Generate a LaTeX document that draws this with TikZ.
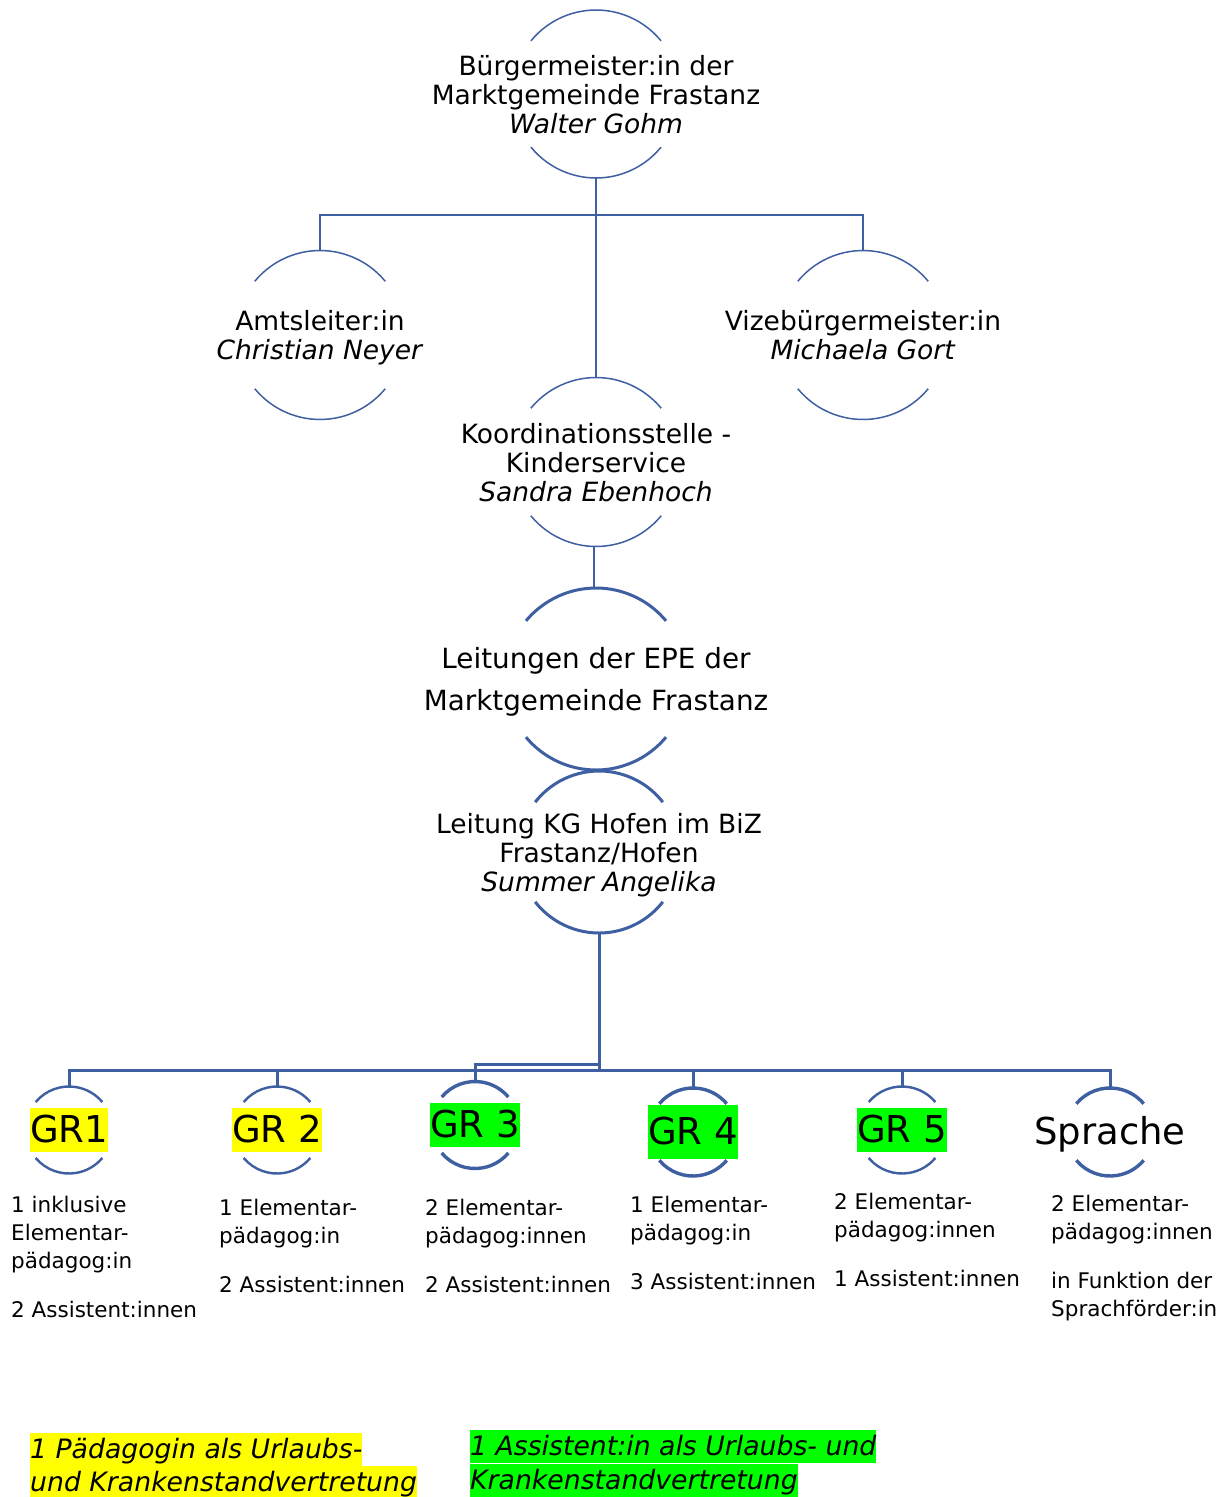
\documentclass[tikz,border=0pt]{standalone}
\usepackage{fontspec}
\setmainfont{DejaVu Sans}
\definecolor{lineblue}{RGB}{62,96,162}
\definecolor{hlyellow}{RGB}{255,255,0}
\definecolor{hlgreen}{RGB}{0,255,0}
\newcommand\ringarcs[4][]{%
  \draw[#1] ([shift={(90+#4:#3)}]#2.center) arc[start angle=90+#4, end angle=90-#4, radius=#3];
  \draw[#1] ([shift={(270-#4:#3)}]#2.center) arc[start angle=270-#4, end angle=270+#4, radius=#3];}
\begin{document}
\begin{tikzpicture}[x=1pt,y=1pt,
  thinln/.style={draw=lineblue,line width=1.5pt},
  thickln/.style={draw=lineblue,line width=3pt},
  midln/.style={draw=lineblue,line width=2.4pt},
  heavyln/.style={draw=lineblue,line width=3.4pt},
  titletext/.style={align=center,inner sep=0pt,text depth=0pt,font=\fontsize{26.5pt}{29pt}\selectfont},
  grlabel/.style={inner xsep=0pt,inner ysep=0pt,text height=34pt,text depth=10pt,font=\fontsize{37pt}{40pt}\selectfont},
  detail/.style={anchor=base west,align=left,inner sep=0pt,font=\fontsize{21.5pt}{28pt}\selectfont},
  legend/.style={anchor=base west,inner xsep=0pt,inner ysep=0pt,text height=25.5pt,text depth=8pt,font=\fontsize{26.7pt}{30pt}\selectfont\itshape}]
\fill[white] (0,0) rectangle (1228,-1497);
\useasboundingbox (0,0) rectangle (1228,-1497);

% top level nodes
\node[titletext] (b) at (596,-94) {Bürgermeister:in der\\Marktgemeinde Frastanz\\\textit{Walter Gohm}};
\node[titletext] (a) at (320,-335) {Amtsleiter:in\\\textit{Christian Neyer}};
\node[titletext] (v) at (863,-335) {Vizebürgermeister:in\\\textit{Michaela Gort}};
\node[titletext] (k) at (596,-462) {Koordinationsstelle -\\Kinderservice\\\textit{Sandra Ebenhoch}};
\node[titletext,font=\fontsize{27.8pt}{42pt}\selectfont] (e) at (596,-679) {Leitungen der EPE der\\Marktgemeinde Frastanz};
\node[titletext] (h) at (599,-852) {Leitung KG Hofen im BiZ\\Frastanz/Hofen\\\textit{Summer Angelika}};

\ringarcs[thinln]{b}{84}{50.7}
\ringarcs[thinln]{a}{84.5}{50.5}
\ringarcs[thinln]{v}{84.5}{50.5}
\ringarcs[thinln]{k}{84.5}{50.5}
\ringarcs[thickln]{e}{91}{50.3}
\ringarcs[thickln]{h}{81}{52}

% upper connectors
\draw[thinln] ([yshift=-84pt]b.center) -- ([yshift=84.5pt]k.center);
\draw[thinln] ([yshift=-121pt]b.center) -| ([yshift=84.5pt]a.center);
\draw[thinln] ([yshift=-121pt]b.center) -| ([yshift=84.5pt]v.center);
\draw[thinln] ([yshift=-84.5pt,xshift=-2pt]k.center) -- ([yshift=91pt,xshift=-2pt]e.center);

% groups
\node[grlabel,fill=hlyellow] (g1) at (69,-1130) {GR1};
\node[grlabel,fill=hlyellow] (g2) at (277,-1130) {GR 2};
\node[grlabel,fill=hlgreen] (g3) at (475,-1125) {GR 3};
\node[grlabel,fill=hlgreen,inner ysep=5pt] (g4) at (693,-1132) {GR 4};
\node[grlabel,fill=hlgreen] (g5) at (902,-1130) {GR 5};
\node[grlabel] (g6) at (1110,-1132) {Sprache};

\ringarcs[midln]{g1}{43.5}{50}
\ringarcs[midln]{g2}{43.5}{50}
\ringarcs[heavyln]{g3}{43.5}{50}
\ringarcs[heavyln]{g4}{44}{50}
\ringarcs[midln]{g5}{43.5}{50}
\ringarcs[heavyln]{g6}{44}{50}

% lower connectors
\coordinate (hub) at ([yshift=-218pt]h.center);
\draw[thickln] ([yshift=-81pt]h.center) -- (hub);
\draw[thickln] (hub) -| ([yshift=43.5pt]g1.center);
\draw[thickln] (hub) -| ([yshift=43.5pt]g2.center);
\draw[thickln] (hub) -| ([yshift=44pt]g4.center);
\draw[thickln] (hub) -| ([yshift=43.5pt]g5.center);
\draw[thickln] (hub) -| ([yshift=44pt]g6.center);
\draw[thickln] ([yshift=6pt]hub) -| ([yshift=43.5pt]g3.center);

% group details (anchored at the baseline of the last line)
\node[detail] (t1) at (11,-1317) {1 inklusive\\Elementar-\\pädagog:in\\[21pt]2 Assistent:innen};
\node[detail] (t2) at (219,-1292) {1 Elementar-\\pädagog:in\\[21pt]2 Assistent:innen};
\node[detail] (t3) at (425,-1292) {2 Elementar-\\pädagog:innen\\[21pt]2 Assistent:innen};
\node[detail] (t4) at (630,-1289) {1 Elementar-\\pädagog:in\\[21pt]3 Assistent:innen};
\node[detail] (t5) at (834,-1286) {2 Elementar-\\pädagog:innen\\[21pt]1 Assistent:innen};
\node[detail] (t6) at (1051,-1316) {2 Elementar-\\pädagog:innen\\[21pt]in Funktion der\\Sprachförder:in};

% legend
\node[legend,fill=hlyellow] (ly1) at (30,-1458) {1 Pädagogin als Urlaubs-};
\node[legend,fill=hlyellow] (ly2) at (30,-1491) {und Krankenstandvertretung};
\node[legend,fill=hlgreen] (lg1) at (470,-1455) {1 Assistent:in als Urlaubs- und};
\node[legend,fill=hlgreen] (lg2) at (470,-1489) {Krankenstandvertretung};
\end{tikzpicture}
\end{document}
